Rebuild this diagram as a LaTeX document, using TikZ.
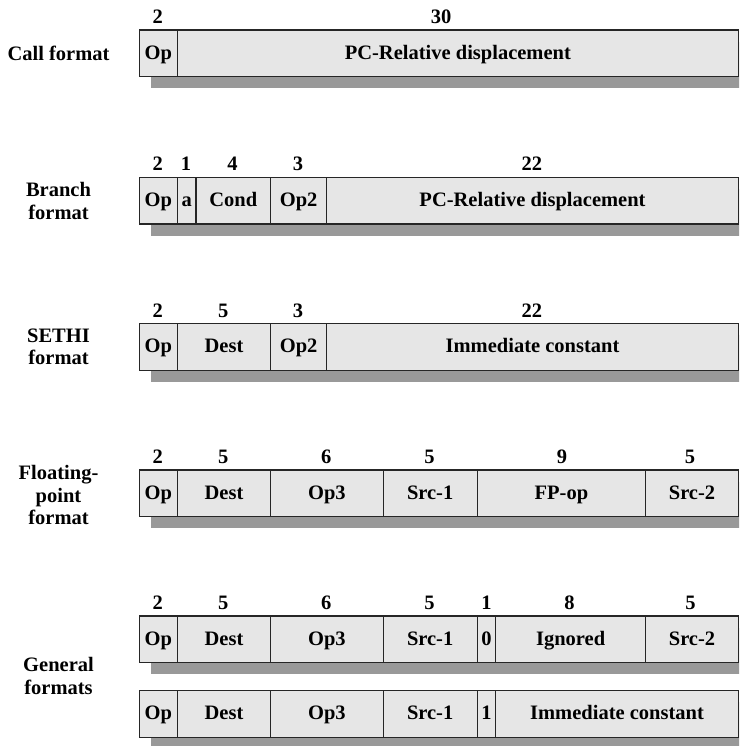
\documentclass[tikz,border=0pt]{standalone}
\usepackage{fontspec}
\setmainfont{Liberation Serif}
\definecolor{fieldfill}{HTML}{E6E6E6}
\definecolor{shadowgray}{HTML}{999999}
\newcommand{\ftxt}{\fontsize{20.5}{22.5}\selectfont\bfseries}
\tikzset{
  field/.style={draw=black!85, line width=1.3pt, fill=fieldfill, anchor=north west,
    minimum height=46.7pt, inner sep=0pt, text height=14pt, text depth=2.1pt, font=\ftxt},
  bits/.style={inner sep=0pt, font=\ftxt},
  rowlabel/.style={inner sep=0pt, align=center, font=\ftxt},
  shadowbar/.style={fill=shadowgray}
}
\begin{document}
\begin{tikzpicture}[x=1pt,y=-1pt]
\useasboundingbox (0,0) rectangle (739,746);
\clip (0,0) rectangle (739,746);
% shadows
\foreach \t in {29.3,176.7,323,469.3,615.3,690}{
  \fill[shadowbar] (151,\t+12.3) rectangle (750,\t+59);
}
% ---------- Call format
\node[rowlabel] (lcall) at (58.5,53.5) {Call format};
\node[field, minimum width=38pt]  (c1) at (138.7,29.3) {Op};
\node[field, minimum width=561pt] (c2) at (176.7,29.3) {PC-Relative displacement};
\node[bits] (nc1) at (157.7,16.8) {2};
\node[bits] (nc2) at (441,16.8) {30};
% ---------- Branch format
\node[rowlabel] (lbranch) at (58.5,201) {Branch\\format};
\node[field, minimum width=38pt]    (b1) at (138.7,176.7) {Op};
\node[field, minimum width=18.6pt]  (b2) at (176.7,176.7) {a};
\node[field, minimum width=74.7pt]  (b3) at (195.3,176.7) {Cond};
\node[field, minimum width=56pt]    (b4) at (270,176.7) {Op2};
\node[field, minimum width=411.7pt] (b5) at (326,176.7) {PC-Relative displacement};
\node[bits] (nb1) at (157.7,164.2) {2};
\node[bits] (nb2) at (186,164.2) {1};
\node[bits] (nb3) at (232.6,164.2) {4};
\node[bits] (nb4) at (298,164.2) {3};
\node[bits] (nb5) at (531.8,164.2) {22};
% ---------- SETHI format
\node[rowlabel] (lsethi) at (58.5,347) {SETHI\\format};
\node[field, minimum width=38pt]    (s1) at (138.7,323) {Op};
\node[field, minimum width=93.3pt]  (s2) at (176.7,323) {Dest};
\node[field, minimum width=56pt]    (s3) at (270,323) {Op2};
\node[field, minimum width=411.7pt] (s4) at (326,323) {Immediate constant};
\node[bits] (ns1) at (157.7,310.5) {2};
\node[bits] (ns2) at (223.3,310.5) {5};
\node[bits] (ns3) at (298,310.5) {3};
\node[bits] (ns4) at (531.8,310.5) {22};
% ---------- Floating-point format
\node[rowlabel] (lfp) at (58.5,495) {Floating-\\point\\format};
\node[field, minimum width=38pt]    (f1) at (138.7,469.3) {Op};
\node[field, minimum width=93.3pt]  (f2) at (176.7,469.3) {Dest};
\node[field, minimum width=112.5pt] (f3) at (270,469.3) {Op3};
\node[field, minimum width=94pt]    (f4) at (382.5,469.3) {Src-1};
\node[field, minimum width=168.5pt] (f5) at (476.5,469.3) {FP-op};
\node[field, minimum width=92.7pt]  (f6) at (645,469.3) {Src-2};
\node[bits] (nf1) at (157.7,456.8) {2};
\node[bits] (nf2) at (223.3,456.8) {5};
\node[bits] (nf3) at (326.2,456.8) {6};
\node[bits] (nf4) at (429.5,456.8) {5};
\node[bits] (nf5) at (562,456.8) {9};
\node[bits] (nf6) at (690,456.8) {5};
% ---------- General formats
\node[rowlabel] (lgen) at (58.5,676) {General\\formats};
\node[field, minimum width=38pt]    (g1) at (138.7,615.3) {Op};
\node[field, minimum width=93.3pt]  (g2) at (176.7,615.3) {Dest};
\node[field, minimum width=112.5pt] (g3) at (270,615.3) {Op3};
\node[field, minimum width=94pt]    (g4) at (382.5,615.3) {Src-1};
\node[field, minimum width=18.5pt]  (g5) at (476.5,615.3) {0};
\node[field, minimum width=150pt]   (g6) at (495,615.3) {Ignored};
\node[field, minimum width=92.7pt]  (g7) at (645,615.3) {Src-2};
\node[bits] (ng1) at (157.7,602.8) {2};
\node[bits] (ng2) at (223.3,602.8) {5};
\node[bits] (ng3) at (326.2,602.8) {6};
\node[bits] (ng4) at (429.5,602.8) {5};
\node[bits] (ng5) at (486.5,602.8) {1};
\node[bits] (ng6) at (569.5,602.8) {8};
\node[bits] (ng7) at (690.5,602.8) {5};
\node[field, minimum width=38pt]    (h1) at (138.7,690) {Op};
\node[field, minimum width=93.3pt]  (h2) at (176.7,690) {Dest};
\node[field, minimum width=112.5pt] (h3) at (270,690) {Op3};
\node[field, minimum width=94pt]    (h4) at (382.5,690) {Src-1};
\node[field, minimum width=18.5pt]  (h5) at (476.5,690) {1};
\node[field, minimum width=242.7pt] (h6) at (495,690) {Immediate constant};
\end{tikzpicture}
\end{document}
